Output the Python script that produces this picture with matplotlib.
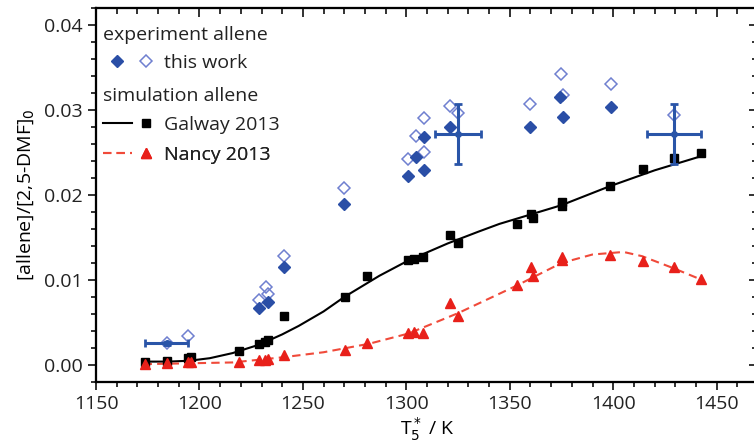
import matplotlib.pyplot as plt
from matplotlib.lines import Line2D
from matplotlib.legend_handler import HandlerTuple
from matplotlib.ticker import MultipleLocator, NullFormatter

# simulated points (same temperatures for both mechanisms)
T_sim = [1173.8, 1184.2, 1194.3, 1195.9, 1219.0, 1229.0, 1231.5, 1233.1, 1241.1,
         1270.2, 1281.0, 1300.9, 1303.9, 1307.9, 1320.9, 1324.9, 1353.3, 1360.5,
         1361.0, 1375.4, 1375.4, 1398.5, 1414.2, 1429.4, 1442.5]
galway_pts = [0.0004, 0.0005, 0.0008, 0.0009, 0.0017, 0.0025, 0.0027, 0.0030, 0.0058,
              0.0080, 0.0105, 0.0124, 0.0125, 0.0127, 0.0153, 0.0144, 0.0166, 0.0178,
              0.0173, 0.0187, 0.0192, 0.0211, 0.0231, 0.0243, 0.0250]
nancy_pts = [0.0001, 0.0002, 0.0003, 0.0003, 0.0004, 0.0006, 0.0006, 0.0007, 0.0012,
             0.0018, 0.0026, 0.0038, 0.0039, 0.0038, 0.0073, 0.0058, 0.0094, 0.0115,
             0.0105, 0.0127, 0.0123, 0.0130, 0.0122, 0.0115, 0.0101]

# simulation curves
T_galway_line = [1173, 1185, 1195, 1205, 1216, 1229, 1240, 1248, 1260, 1270, 1287,
                 1301, 1320, 1335, 1345, 1360, 1375, 1398, 1420, 1443]
galway_line = [0.0004, 0.0004, 0.0005, 0.0008, 0.0014, 0.0024, 0.0036, 0.0046, 0.0063,
               0.0080, 0.0105, 0.0123, 0.0143, 0.0157, 0.0166, 0.0177, 0.0188, 0.0210,
               0.0229, 0.0246]
T_nancy_line = [1173, 1195, 1216, 1240, 1260, 1282, 1301, 1325, 1353, 1375, 1390,
                1405, 1414, 1429, 1443]
nancy_line = [0.0001, 0.0002, 0.0003, 0.0009, 0.0015, 0.0025, 0.0037, 0.0061, 0.0093,
              0.0120, 0.0130, 0.0133, 0.0128, 0.0114, 0.0100]

# experiment (filled and open symbols)
T_filled = [1229.0, 1233.0, 1241.1, 1270.0, 1300.9, 1304.7, 1308.4, 1308.4, 1321.2,
            1360.0, 1374.5, 1375.7, 1398.9]
exp_filled = [0.0067, 0.0074, 0.0115, 0.0189, 0.0222, 0.0245, 0.0268, 0.0229, 0.0280,
              0.0280, 0.0315, 0.0292, 0.0304]
T_open = [1184.2, 1194.6, 1229.0, 1232.3, 1233.1, 1241.1, 1270.0, 1300.9, 1304.7,
          1308.4, 1308.4, 1321.2, 1325.2, 1360.0, 1374.9, 1375.7, 1398.9, 1429.4]
exp_open = [0.0026, 0.0034, 0.0076, 0.0092, 0.0083, 0.0128, 0.0208, 0.0242, 0.0269,
            0.0291, 0.0251, 0.0305, 0.0297, 0.0307, 0.0342, 0.0318, 0.0331, 0.0294]

# representative error bars
T_err = [1184.2, 1324.9, 1429.4]
y_err_pos = [0.00255, 0.0272, 0.0272]
T_err_size = [10.4, 11.2, 13.0]
y_err_size = [0.0002, 0.0035, 0.0035]

plt.rcParams['font.family'] = ['Open Sans', 'DejaVu Sans']
plt.rcParams['font.size'] = 14
plt.rcParams['text.color'] = '#222222'

blue = '#2a4ea6'
light_blue = '#6f80d0'
red = '#e8201a'
dash_red = '#f04a3a'

fig = plt.figure(figsize=(7.54, 4.47), dpi=100)
ax = fig.add_axes([96 / 754, 65 / 447, 662 / 754, 374 / 447])

ax.plot(T_galway_line, galway_line, '-', color='black', lw=1.5, zorder=2)
ax.plot(T_nancy_line, nancy_line, '--', color=dash_red, lw=1.5,
        dashes=(4, 2.5), zorder=2)
ax.plot(T_sim, galway_pts, 's', color='black', ms=5.5, zorder=3)
ax.plot(T_sim, nancy_pts, '^', color=red, ms=6.5, zorder=3)

ax.plot(T_open, exp_open, 'D', mfc='none', mec=light_blue, mew=1.1, ms=6.5, zorder=4)
ax.plot(T_filled, exp_filled, 'D', color=blue, ms=6.5, zorder=4)
ax.errorbar(T_err, y_err_pos, xerr=T_err_size, yerr=y_err_size, fmt='o', ms=4,
            color='#2a55a8', ecolor='#2a55a8', elinewidth=2.2, capsize=3,
            capthick=2, zorder=5)

ax.set_xlim(1150, 1470)
ax.set_ylim(-0.002, 0.042)
ax.xaxis.set_major_locator(MultipleLocator(50))
ax.xaxis.set_minor_locator(MultipleLocator(10))
ax.yaxis.set_major_locator(MultipleLocator(0.01))
ax.yaxis.set_minor_locator(MultipleLocator(0.002))
ax.yaxis.set_major_formatter(plt.FuncFormatter(lambda v, p: f'{v:.2f}'))

for s in ax.spines.values():
    s.set_linewidth(1.5)
ax.tick_params(which='both', width=1.3, labelsize=14, colors='#222222',
               direction='out', top=False, right=False)
ax.tick_params(which='major', length=6)
ax.tick_params(which='minor', length=3.5)

# top and right axes: ticks pointing inwards, no labels
ax_top = ax.twiny()
ax_top.set_xlim(ax.get_xlim())
ax_top.xaxis.set_major_locator(MultipleLocator(50))
ax_top.xaxis.set_minor_locator(MultipleLocator(10))
ax_top.xaxis.set_major_formatter(NullFormatter())
ax_top.tick_params(which='both', direction='in', width=1.3, color='#222222')
ax_top.tick_params(which='major', length=6.5)
ax_top.tick_params(which='minor', length=4)

ax_right = ax.twinx()
ax_right.set_ylim(ax.get_ylim())
ax_right.yaxis.set_major_locator(MultipleLocator(0.01))
ax_right.yaxis.set_minor_locator(MultipleLocator(0.002))
ax_right.yaxis.set_major_formatter(NullFormatter())
ax_right.tick_params(which='both', direction='in', width=1.3, color='#222222')
ax_right.tick_params(which='major', length=6.5)
ax_right.tick_params(which='minor', length=4)
for a in (ax_top, ax_right):
    for s in a.spines.values():
        s.set_linewidth(1.5)

ax.set_xlabel('T$_5^*$ / K', fontsize=14, labelpad=2)
ax.set_ylabel('[allene]/[2,5-DMF]$_0$', fontsize=14, labelpad=6)

# legend block
x0 = 7 / 662
ax.text(x0, 0.928, 'experiment allene', transform=ax.transAxes, va='center',
        ha='left', fontsize=14)
ax.text(x0, 0.765, 'simulation allene', transform=ax.transAxes, va='center',
        ha='left', fontsize=14)

h_filled = Line2D([], [], ls='none', marker='D', color=blue, ms=6.5)
h_open = Line2D([], [], ls='none', marker='D', mfc='none', mec=light_blue, mew=1.1, ms=6.5)
h_gline = Line2D([], [], color='black', lw=1.5)
h_gmark = Line2D([], [], ls='none', marker='s', color='black', ms=5.5)
h_nline = Line2D([], [], color=dash_red, lw=1.5, ls='--', dashes=(4, 2.5))
h_nmark = Line2D([], [], ls='none', marker='^', color=red, ms=6.5)

rows = [((h_filled, h_open), 'this work', 0.853),
        ((h_gline, h_gmark), 'Galway 2013', 0.687),
        ((h_nline, h_nmark), 'Nancy 2013', 0.607)]
for handle, label, yy in rows:
    leg = ax.legend([handle], [label], loc='center left', bbox_to_anchor=(x0, yy),
                    frameon=False, borderpad=0, borderaxespad=0, handlelength=2.95,
                    handletextpad=0.2, fontsize=14,
                    handler_map={tuple: HandlerTuple(ndivide=None, pad=0)})
    ax.add_artist(leg)

fig.savefig('out.png', dpi=100)
